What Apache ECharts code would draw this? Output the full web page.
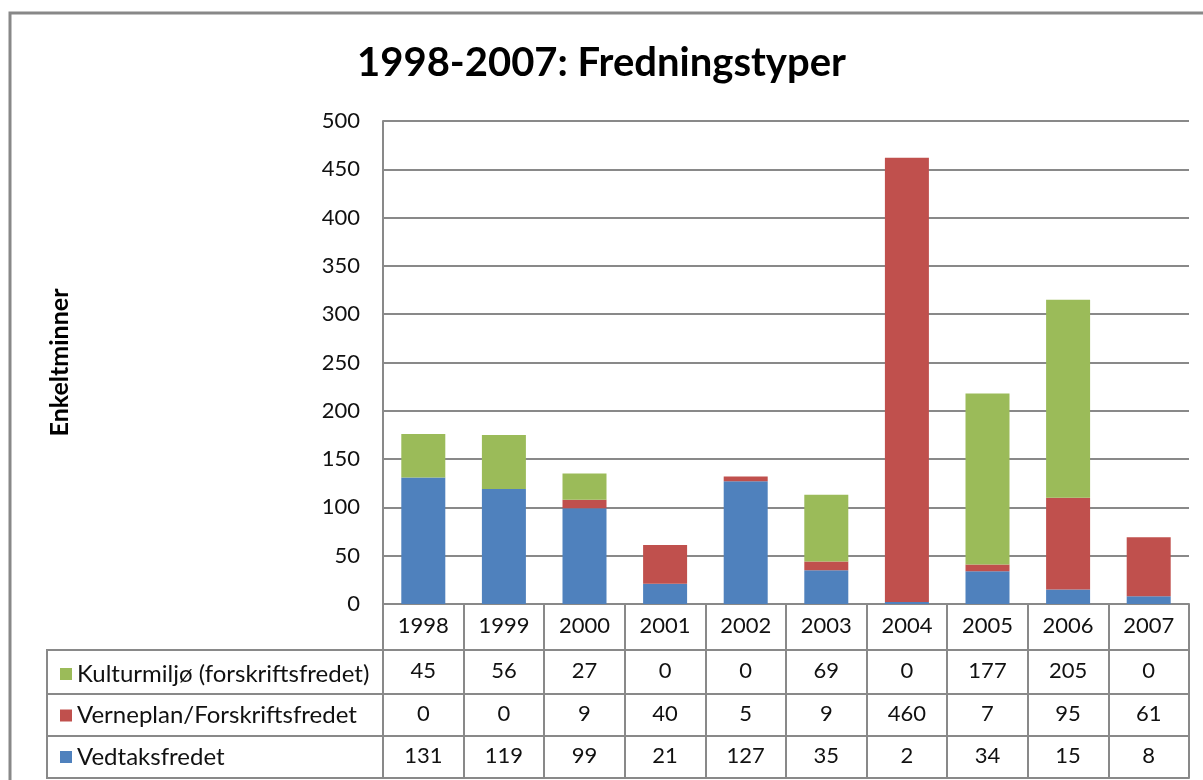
<!DOCTYPE html>
<html>
<head>
<meta charset="utf-8">
<script src="https://cdn.jsdelivr.net/npm/echarts@6/dist/echarts.min.js"></script>
<style>
  html, body { margin: 0; padding: 0; background: #fff; }
  #chart { width: 1203px; height: 780px; }
</style>
</head>
<body>
<div id="chart"></div>
<script>
  const years = ["1998", "1999", "2000", "2001", "2002", "2003", "2004", "2005", "2006", "2007"];
  const vedtaksfredet = [131, 119, 99, 21, 127, 35, 2, 34, 15, 8];
  const verneplan = [0, 0, 9, 40, 5, 9, 460, 7, 95, 61];
  const kulturmiljo = [45, 56, 27, 0, 0, 69, 0, 177, 205, 0];
  const yTicks = [0, 500, 50]; // min, max, step

  const FONT = "Lato, 'Open Sans', sans-serif";
  const LINE = "#898989";

  const names = {
    green: "Kulturmiljø (forskriftsfredet)",
    red: "Verneplan/Forskriftsfredet",
    blue: "Vedtaksfredet"
  };

  // one x axis per table row, the ticks give the column borders
  function rowAxis(data, offset, margin, tickLen, showLabel) {
    return {
      type: "category",
      gridIndex: 0,
      position: "bottom",
      offset: offset,
      data: data.map(String),
      axisLine: { show: true, lineStyle: { color: LINE, width: 2 } },
      axisTick: { show: tickLen > 0, length: tickLen, interval: 0, lineStyle: { color: LINE, width: 2 } },
      axisLabel: {
        show: showLabel, interval: 0, margin: margin,
        fontFamily: FONT, fontSize: 22, color: "#111"
      }
    };
  }

  const chart = echarts.init(document.getElementById("chart"));
  chart.setOption({
    animation: false,
    title: {
      text: "1998-2007: Fredningstyper",
      left: "center",
      top: 38,
      textStyle: { fontFamily: FONT, fontSize: 40, fontWeight: "bold", color: "#000" }
    },
    grid: { left: 383, right: 14, top: 121, bottom: 176, containLabel: false },
    legend: {
      orient: "vertical",
      left: 55,
      top: 657,
      itemWidth: 12,
      itemHeight: 12,
      itemGap: 17.5,
      icon: "rect",
      data: [names.green, names.red, names.blue],
      textStyle: { fontFamily: FONT, fontSize: 24, color: "#111" }
    },
    xAxis: [
      rowAxis(years, 0, 11, 46, true),
      rowAxis(kulturmiljo, 46, 10, 44, true),
      rowAxis(verneplan, 90, 9, 42, true),
      rowAxis(vedtaksfredet, 132, 9, 42, true),
      rowAxis(years, 174, 0, 0, false)
    ],
    yAxis: {
      type: "value",
      min: yTicks[0],
      max: yTicks[1],
      interval: yTicks[2],
      name: "Enkeltminner",
      nameLocation: "middle",
      nameGap: 311,
      nameRotate: 90,
      nameTextStyle: { fontFamily: FONT, fontSize: 25, fontWeight: "bold", color: "#000" },
      axisLine: { show: true, lineStyle: { color: LINE, width: 2 } },
      axisTick: { show: false },
      axisLabel: { fontFamily: FONT, fontSize: 22, color: "#111", margin: 23 },
      splitLine: { lineStyle: { color: LINE, width: 2 } }
    },
    graphic: [
      {
        type: "rect",
        shape: { x: 10, y: 13, width: 1260, height: 820 },
        style: { fill: "none", stroke: "#888", lineWidth: 3 },
        silent: true
      },
      {
        type: "rect",
        shape: { x: 47, y: 650, width: 336, height: 128 },
        style: { fill: "none", stroke: LINE, lineWidth: 2 },
        silent: true
      },
      {
        type: "line",
        shape: { x1: 47, y1: 694, x2: 383, y2: 694 },
        style: { stroke: LINE, lineWidth: 2 },
        silent: true
      },
      {
        type: "line",
        shape: { x1: 47, y1: 736, x2: 383, y2: 736 },
        style: { stroke: LINE, lineWidth: 2 },
        silent: true
      }
    ],
    series: [
      {
        name: names.blue, type: "bar", stack: "total", data: vedtaksfredet,
        barWidth: 44, itemStyle: { color: "#4F81BD" }
      },
      {
        name: names.red, type: "bar", stack: "total", data: verneplan,
        barWidth: 44, itemStyle: { color: "#C0504D" }
      },
      {
        name: names.green, type: "bar", stack: "total", data: kulturmiljo,
        barWidth: 44, itemStyle: { color: "#9BBB59" }
      }
    ]
  });
</script>
</body>
</html>
